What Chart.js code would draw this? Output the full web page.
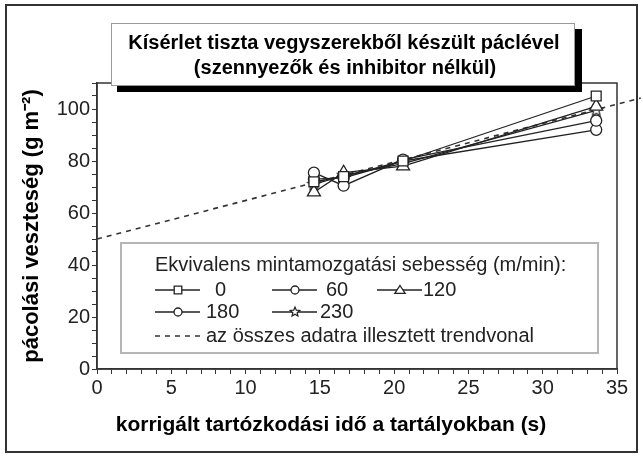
<!DOCTYPE html>
<html>
<head>
<meta charset="utf-8">
<script src="https://cdn.jsdelivr.net/npm/chart.js@4.4.0/dist/chart.umd.min.js"></script>
<style>
  html,body{margin:0;padding:0;background:#fff;}
  #wrap{width:643px;height:456px;position:relative;}
</style>
</head>
<body>
<div id="wrap"><canvas id="myChart" width="643" height="456"></canvas></div>
<script>
// values
const residenceTimes = [14.6, 16.6, 20.6, 33.6];
const speedLabels = ["0", "60", "120", "180", "230"];
const loss0   = [72, 74, 80, 105];
const loss60  = [75.5, 70.5, 80.5, 95.5];
const loss120 = [68, 75.5, 78, 101];
const loss180 = [73, 73.5, 80, 92];
const loss230 = [71, 74.5, 79, 99.5];
const trendX = [0, 36.6];
const trendY = [50, 104.2];

const titleLines = ["Kísérlet tiszta vegyszerekből készült páclével", "(szennyezők és inhibitor nélkül)"];
const legendHeader = "Ekvivalens mintamozgatási sebesség (m/min):";
const trendLabel = "az összes adatra illesztett trendvonal";
const xTitle = "korrigált tartózkodási idő a tartályokban (s)";
const yTitle = "pácolási veszteség (g m⁻²)";

const FONT = "'Liberation Sans', Arial, sans-serif";
const INK = "#222";

// hollow 5 point star, chart.js has no such pointStyle
function makeStar(r){
  let c = document.createElement("canvas")
  let s = Math.ceil(r*2+4)
  c.width = s; c.height = s
  let g = c.getContext("2d")
  g.beginPath()
  for(let i=0;i<10;i++){
    let rad = i%2===0 ? r : r*0.45
    let a = -Math.PI/2 + i*Math.PI/5
    let px = s/2 + rad*Math.cos(a), py = s/2 + rad*Math.sin(a)
    i===0 ? g.moveTo(px,py) : g.lineTo(px,py)
  }
  g.closePath()
  g.fillStyle="#fff"; g.fill()
  g.strokeStyle=INK; g.lineWidth=1.2; g.stroke()
  return c
}
const starBig = makeStar(6.5)
const starSmall = makeStar(5)

const seriesValues = [loss0, loss60, loss120, loss180, loss230];
const styles = ["rect", "circle", "triangle", "circle", starBig];
const radii = [7, 5.5, 7.5, 5.5, 7];

let datasets = seriesValues.map((vals, i) => ({
  label: speedLabels[i],
  data: residenceTimes.map((t, j) => ({x: t, y: vals[j]})),
  borderColor: INK,
  borderWidth: 1.3,
  pointStyle: styles[i],
  pointRadius: radii[i],
  pointBackgroundColor: "#fff",
  pointBorderColor: INK,
  pointBorderWidth: 1.3,
  showLine: true,
  order: 1
}))
datasets.unshift({
  label: trendLabel,
  data: trendX.map((t, j) => ({x: t, y: trendY[j]})),
  borderColor: "#333",
  borderWidth: 1.6,
  borderDash: [5, 5],
  pointRadius: 0,
  showLine: true,
  clip: false,
  order: 2
})

function marker(ctx, style, x, y, r){
  ctx.save()
  ctx.fillStyle="#fff"; ctx.strokeStyle=INK; ctx.lineWidth=1.3
  ctx.beginPath()
  if(style==="rect"){
    ctx.rect(x-r, y-r, 2*r, 2*r)
  } else if(style==="circle"){
    ctx.arc(x, y, r, 0, Math.PI*2)
  } else if(style==="triangle"){
    ctx.moveTo(x, y-r); ctx.lineTo(x+r*1.15, y+r*0.75); ctx.lineTo(x-r*1.15, y+r*0.75); ctx.closePath()
  } else {
    ctx.drawImage(starSmall, x-starSmall.width/2, y-starSmall.height/2)
    ctx.restore(); return
  }
  ctx.fill(); ctx.stroke()
  ctx.restore()
}

const decorations = {
  id: "decorations",
  afterDraw(chart){
    let ctx = chart.ctx
    let a = chart.chartArea
    ctx.save()
    // plot frame
    ctx.strokeStyle="#333"; ctx.lineWidth=1.5
    ctx.strokeRect(a.left, a.top, a.right-a.left, a.bottom-a.top)

    // title box with black shadow
    ctx.fillStyle="#000"
    ctx.fillRect(117, 29, 465, 63)
    ctx.fillStyle="#fff"
    ctx.fillRect(111, 23, 464, 63)
    ctx.strokeStyle="#999"; ctx.lineWidth=1
    ctx.strokeRect(111.5, 23.5, 463, 62)
    ctx.fillStyle="#000"
    ctx.font = "bold 20px " + FONT
    ctx.textAlign="center"; ctx.textBaseline="middle"
    ctx.fillText(titleLines[0], 344, 43)
    ctx.fillText(titleLines[1], 345, 68)

    // legend
    ctx.fillStyle="#fff"
    ctx.fillRect(121, 243, 477, 110)
    ctx.strokeStyle="#b5b5b5"; ctx.lineWidth=2
    ctx.strokeRect(121, 243, 477, 110)
    ctx.fillStyle=INK
    ctx.font = "20px " + FONT
    ctx.textAlign="left"; ctx.textBaseline="middle"
    ctx.fillText(legendHeader, 155, 265)
    let slots = [[155,290,215],[272,290,326],[377,290,423],[155,312,206],[272,312,320]]
    let small = [3.8, 4, 4.5, 4, 0]
    slots.forEach((s, i) => {
      ctx.strokeStyle=INK; ctx.lineWidth=1.3
      ctx.beginPath(); ctx.moveTo(s[0], s[1]); ctx.lineTo(s[0]+45, s[1]); ctx.stroke()
      marker(ctx, styles[i]===starBig ? "star" : styles[i], s[0]+23, s[1], small[i])
      ctx.fillStyle=INK
      ctx.fillText(speedLabels[i], s[2], s[1])
    })
    ctx.strokeStyle="#333"; ctx.lineWidth=1.6
    ctx.setLineDash([5,5])
    ctx.beginPath(); ctx.moveTo(155, 336); ctx.lineTo(200, 336); ctx.stroke()
    ctx.setLineDash([])
    ctx.fillText(trendLabel, 206, 336)

    // x axis title, sits left of the plot centre in the original
    ctx.fillStyle="#000"
    ctx.font = "bold 21px " + FONT
    ctx.textAlign="center"
    ctx.fillText(xTitle, 331, 425)

    // outer border of the figure
    ctx.strokeStyle="#333"; ctx.lineWidth=2
    ctx.strokeRect(6, 5, 631, 447)
    ctx.restore()
  }
}

new Chart("myChart", {
  type: "scatter",
  data: {datasets: datasets},
  options: {
    responsive: false,
    animation: false,
    layout: {padding: {top: 83, right: 26, left: 0, bottom: 0}},
    plugins: {legend: {display: false}, tooltip: {enabled: false}},
    scales: {
      x: {
        type: "linear", min: 0, max: 35,
        afterFit: s => { s.height = 87 },
        border: {color: "#333", width: 1.5},
        grid: {drawOnChartArea: false, tickLength: 5, color: "#333"},
        ticks: {
          stepSize: 1, autoSkip: false, maxRotation: 0, padding: 2,
          color: INK, font: {family: FONT, size: 20},
          callback: v => v % 5 === 0 ? v : ""
        }
      },
      y: {
        type: "linear", min: 0, max: 110,
        afterFit: s => { s.width = 97 },
        border: {color: "#333", width: 1.5},
        grid: {drawOnChartArea: false, tickLength: 5, color: "#333"},
        ticks: {
          stepSize: 5, autoSkip: false, padding: 2,
          color: INK, font: {family: FONT, size: 20},
          callback: v => v % 20 === 0 ? v : ""
        },
        title: {
          display: true, text: yTitle, color: "#000",
          font: {family: FONT, size: 22, weight: "bold"},
          padding: {top: 19, bottom: 0}
        }
      }
    }
  },
  plugins: [decorations]
});
</script>
</body>
</html>
